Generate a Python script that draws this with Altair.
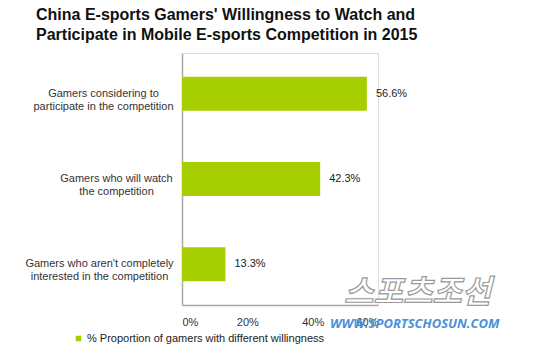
import altair as alt
import pandas as pd

categories = [
    "Gamers considering to|participate in the competition",
    "Gamers who will watch|the competition",
    "Gamers who aren't completely|interested in the competition",
]
values = [56.6, 42.3, 13.3]
series_name = "% Proportion of gamers with different willingness"
x_ticks = [0, 20, 40, 60]
title_lines = [
    "China E-sports Gamers' Willingness to Watch and",
    "Participate in Mobile E-sports Competition in 2015",
]
watermark_url = ["WWW.SPORTSCHOSUN.COM"]
watermark_logo = ["스포츠조선"]

GREEN = "#a6ce00"
FONT = "Liberation Sans"

df = pd.DataFrame({"category": categories, "value": values, "series": series_name})
df["label"] = [f"{v:.1f}%" for v in values]

pad_expr = (
    "indexof(datum.value, 'considering') >= 0 ? 79 : "
    "(indexof(datum.value, 'watch') >= 0 ? 66 : 83)"
)

y_enc = alt.Y(
    "category:N",
    sort=categories,
    scale=alt.Scale(paddingInner=0.6, paddingOuter=0.28),
    axis=alt.Axis(
        title=None,
        labelExpr="split(datum.label, '|')",
        labelAlign="center",
        labelBaseline="middle",
        labelPadding=alt.ExprRef(pad_expr),
        labelLineHeight=13,
        labelFont=FONT,
        labelFontSize=11,
        labelColor="#333333",
        ticks=False,
        domainColor="#a8a8a8",
        domainWidth=1.5,
        labelLimit=300,
    ),
)

x_enc = alt.X(
    "value:Q",
    scale=alt.Scale(domain=[0, 60], nice=False),
    axis=alt.Axis(
        title=None,
        values=x_ticks,
        labelExpr="datum.value + '%'",
        grid=False,
        ticks=False,
        labelPadding=11,
        labelFont=FONT,
        labelFontSize=11,
        labelColor="#333333",
        domainColor="#a8a8a8",
        domainWidth=1.5,
    ),
)

base = alt.Chart(df)

bars = base.mark_bar(size=34).encode(
    y=y_enc,
    x=x_enc,
    color=alt.Color(
        "series:N",
        scale=alt.Scale(domain=[series_name], range=[GREEN]),
        legend=alt.Legend(
            title=None,
            orient="none",
            legendX=-109,
            legendY=280,
            symbolType="square",
            symbolSize=30,
            symbolStrokeWidth=0,
            labelFont=FONT,
            labelFontSize=11,
            labelColor="#222222",
            labelOffset=3,
            labelLimit=400,
        ),
    ),
)

texts = base.mark_text(
    align="left", baseline="middle", dx=9, font=FONT, fontSize=11, color="#222222"
).encode(
    y=alt.Y("category:N", sort=categories),
    x="value:Q",
    text="label:N",
)

logo = alt.Chart(pd.DataFrame({"t": watermark_logo})).mark_text(
    align="left",
    baseline="middle",
    font="Noto Sans CJK KR",
    fontSize=32,
    fontWeight="bold",
    fontStyle="italic",
    fill="#ffffff",
    stroke="#9a9a9a",
    strokeWidth=1.2,
).encode(x=alt.value(162), y=alt.value(240), text="t:N")

url = alt.Chart(pd.DataFrame({"t": watermark_url})).mark_text(
    align="left",
    baseline="middle",
    font="Open Sans",
    fontSize=13,
    fontWeight="bold",
    fontStyle="italic",
    color="#4a90d9",
).encode(x=alt.value(148), y=alt.value(271), text="t:N")

chart = (
    alt.layer(logo, url, bars, texts)
    .properties(
        width=196,
        height=252,
        padding={"left": 182, "top": 53, "right": 162, "bottom": 47},
        autosize=alt.AutoSizeParams(type="none"),
        title=alt.TitleParams(
            title_lines,
            anchor="start",
            frame="group",
            dx=-146,
            fontSize=16,
            fontWeight="bold",
            font=FONT,
            color="#111111",
            lineHeight=20,
            offset=10,
        ),
    )
    .configure_view(stroke=None)
    .configure(background="white")
)

chart.save("out.html", embed_options={"renderer": "svg", "actions": False})
